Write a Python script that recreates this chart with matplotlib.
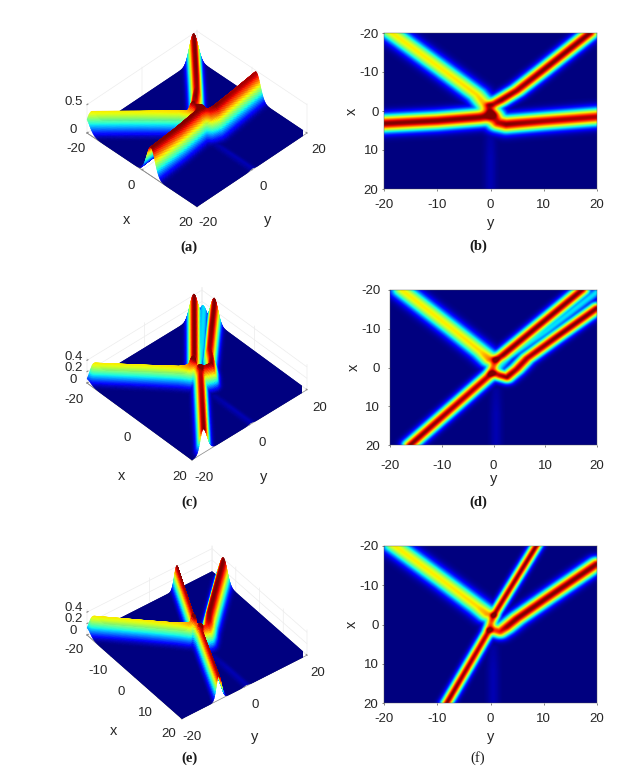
import numpy as np
import matplotlib
matplotlib.use('Agg')
import matplotlib.pyplot as plt
from mpl_toolkits.mplot3d import proj3d

plt.rcParams['font.family'] = ['Liberation Sans', 'DejaVu Sans']
plt.rcParams['axes.unicode_minus'] = False

W, H = 644, 773
ticks = [-20, -10, 0, 10, 20]
ticks3d = [-20, 0, 20]

# ridge tracks: y, x, height (0-1) at each vertex, then width
# panel a/b
ab_yellow = ([-18.9, -9.5, -2.6, -1.0, -0.4], [-20.4, -11.1, -4.2, -1.6, -0.2], [.66, .66, .68, .72, .78], 2.0)
ab_red_up = ([18.7, 10, 5, 2, 0.5], [-20, -10.6, -5.3, -2.8, -1.7], [1, 1, .98, 1, .95], 1.55)
ab_left = ([-20, -10, -2, -0.5, 0.3], [3.2, 2.5, 1.6, 1.3, 1.0], [1, 1, 1, .97, .9], 2.15)
ab_right = ([0.1, 1.5, 3, 10, 20], [1.1, 3.0, 3.4, 2.6, 1.5], [.85, .96, 1, .97, .96], 2.15)
ab_link = ([-0.4, 0, 0.3], [-1.5, 0, 1], [.85, .82, .88], 1.3)
ab_faint = ([0, 0, 0], [5, 12, 20], [.03, .045, .045], 1.1)
# panel c/d
cd_yellow = ([-17.7, -8, -2.5, -0.8], [-20, -10, -4.2, -2.2], [.66, .66, .68, .78], 2.0)
cd_red_up = ([17.1, 1.8, 0.5], [-20, -3.2, -2], [1, 1, .95], 1.45)
cd_red_low = ([20, 12.3, 6.5, 4.5, 2.6, 1.2, 0.4], [-15.3, -8, -2.4, .4, 2.5, 2.0, 1.5], [1, 1, .97, .97, 1, .96, .9], 1.45)
cd_lower = ([-16.1, -0.4], [20, 1.6], [1, .95], 1.45)
cd_mid = ([20, 10, 3, 1.2], [-19.5, -9.2, -2.8, 0], [.35, .35, .35, .33], 1.1)
cd_link = ([-0.5, 0.0, 0.4], [1.6, -0.3, -2], [.9, .82, .9], 1.3)
cd_faint = ([.5, .5, .5], [6, 12, 20], [.03, .045, .045], 1.1)
# panel e/f
ef_yellow = ([-18.2, -9, -2.5, -0.7], [-20, -11, -4.5, -2.6], [.66, .66, .68, .74], 2.0)
ef_red_up = ([8.7, 0.6], [-20, -2.2], [1, .97], 1.05)
ef_red_low = ([20, 10.6, 5, 3, 1.8, 0.6], [-15.2, -6.6, -1.4, .8, 1.9, 1.5], [1, 1, 1, .98, .9, .85], 1.65)
ef_lower = ([-8.2, -0.2], [20, 1.5], [1, .95], 1.1)
ef_link = ([-0.2, 0.1, 0.6], [1.5, -0.3, -2.2], [.88, .82, .95], 1.15)
ef_faint = ([.5, .5, .5], [6, 12, 20], [.03, .045, .045], 1.1)

panel_ab = [ab_yellow, ab_red_up, ab_left, ab_right, ab_link, ab_faint]
panel_cd = [cd_yellow, cd_red_up, cd_red_low, cd_lower, cd_mid, cd_link, cd_faint]
panel_ef = [ef_yellow, ef_red_up, ef_red_low, ef_lower, ef_link, ef_faint]


def ridge_field(ridges, yy, xx):
    total = np.zeros_like(yy)
    for ys, xs, amps, w in ridges:
        best = np.zeros_like(yy)
        for i in range(len(ys) - 1):
            dy, dx = ys[i+1] - ys[i], xs[i+1] - xs[i]
            t = ((yy - ys[i])*dy + (xx - xs[i])*dx) / (dy*dy + dx*dx)
            t = np.clip(t, 0, 1)
            d = np.hypot(yy - ys[i] - t*dy, xx - xs[i] - t*dx)
            a = amps[i] + (amps[i+1] - amps[i])*t
            best = np.maximum(best, a * np.exp(-(d/w)**2))
        total += best**4
    return np.clip(total**0.25, 0, 1)


fig = plt.figure(figsize=(W/100, H/100), dpi=100)
tc = '#262626'


def heat(ridges, left, right, top, bottom, xpad, ypad, xlab):
    ax = fig.add_axes([left/W, 1 - bottom/H, (right-left)/W, (bottom-top)/H])
    g = np.linspace(-20, 20, 400)
    yy, xx = np.meshgrid(g, g)
    ax.imshow(ridge_field(ridges, yy, xx), extent=[-20, 20, 20, -20], aspect='auto',
              cmap='jet', vmin=0, vmax=1, interpolation='bilinear')
    ax.set_xticks(ticks)
    ax.set_yticks(ticks)
    ax.tick_params(labelsize=9.5, colors=tc, length=1.5, width=.4)
    ax.tick_params(axis='x', pad=xpad)
    ax.tick_params(axis='y', pad=ypad)
    ax.set_xlabel('y', fontsize=10.5, color=tc, labelpad=xlab)
    ax.set_ylabel('x', fontsize=10.5, color=tc, labelpad=0)
    for s in ax.spines.values():
        s.set_linewidth(.3)
        s.set_color('#555555')
    return ax


def surf(ridges, azim, peak, zmax, zt, corner_l, corner_r, xt, pads, xl, yl):
    ax = fig.add_axes([.1, .1, .5, .5*W/H], projection='3d')
    ax.set_proj_type('ortho')
    ax.view_init(elev=42, azim=azim)
    ax.set_box_aspect((1, 1, zmax*77/157), zoom=1.0)
    g = np.linspace(-20, 20, 241)
    yy, xx = np.meshgrid(g, g)
    f = ridge_field(ridges, yy, xx)
    sf = ax.plot_surface(xx, yy, f*peak, facecolors=plt.cm.jet(f), rstride=1, cstride=1,
                         linewidth=.25, antialiased=True, shade=False)
    # edges same colour as the faces, no seams between the small polygons
    sf.set_edgecolor(plt.cm.jet(f[:-1, :-1]).reshape(-1, 4))
    ax.set_xlim(-20, 20)
    ax.set_ylim(-20, 20)
    ax.set_zlim(0, zmax)
    ax.set_xticks(xt)
    ax.set_yticks(ticks3d)
    ax.set_zticks(zt)
    ax.set_zticklabels(['%g' % v for v in zt])
    ax.zaxis.set_ticks_position('lower')
    ax.zaxis._axinfo['juggled'] = (1, 0, 2)
    for a in (ax.xaxis, ax.yaxis, ax.zaxis):
        a.set_pane_color((1, 1, 1, 0))
        a.pane.set_edgecolor('#e4e4e4')
        a.line.set_color('#8c8c8c')
        a.line.set_linewidth(.5)
        a._axinfo['grid'].update(color='#ececec', linewidth=.5)
        a._axinfo['tick'].update(inward_factor=0, outward_factor=.1)
    ax.tick_params(labelsize=9.5, labelcolor=tc, color='#8c8c8c', width=.4)
    ax.tick_params(axis='x', pad=pads[0])
    ax.tick_params(axis='y', pad=pads[1])
    ax.tick_params(axis='z', pad=-3)
    for lab in ax.get_zticklabels():
        lab.set_va('baseline')
    ax.patch.set_alpha(0)
    # move the axes so the floor corners land where they are in the figure
    ax.apply_aspect()
    corners = [(-20, -20, 0), (20, 20, 0)]
    pts = []
    for c in corners:
        px, py, _ = proj3d.proj_transform(*c, ax.get_proj())
        pts.append(ax.transData.transform((px, py)))
    bb = ax.get_position()
    x0, y0, s = bb.x0*W, bb.y0*H, bb.width*W
    k = (corner_r[0] - corner_l[0]) / (pts[1][0] - pts[0][0])
    nx = corner_l[0] - (pts[0][0] - x0)*k
    ny = (H - corner_l[1]) - (pts[0][1] - y0)*k
    ax.set_position([nx/W, ny/H, s*k/W, s*k/H])
    fig.text(xl[0]/W, 1 - xl[1]/H, 'x', fontsize=10.5, color=tc, ha='center', va='center')
    fig.text(yl[0]/W, 1 - yl[1]/H, 'y', fontsize=10.5, color=tc, ha='center', va='center')
    return ax


surf(panel_ab, -45, .5, .52, [0, .5], (87, 133), (307, 133), ticks3d, (0, .5), (127, 220), (268, 220))
surf(panel_cd, -42.4, .42, .45, [0, .2, .4], (87, 383), (307, 393), ticks3d, (1, 1.5), (122, 476), (264, 477))
surf(panel_ef, -37.2, .42, .45, [0, .2, .4], (87, 635), (307, 658), ticks, (.5, 1), (114, 731), (255, 737))

heat(panel_ab, 384, 597, 33, 189, 6, 2.5, 3)
heat(panel_cd, 390, 597, 290, 445, 9, 5.5, 0)
heat(panel_ef, 384, 597, 546, 703, 6, 2.5, 3)

captions = ['(a)', '(b)', '(c)', '(d)', '(e)', '(f)']
cap_x = [189, 478, 189, 478, 189, 478]
cap_y = [247, 246, 502, 502, 758, 758]
for c, cx, cy in zip(captions, cap_x, cap_y):
    fig.text(cx/W, 1 - cy/H, c, family='Liberation Serif', fontsize=10.5,
             fontweight='normal' if c == '(f)' else 'bold', color='#1a1a1a',
             ha='center', va='center')

fig.savefig('out.png', dpi=100)
